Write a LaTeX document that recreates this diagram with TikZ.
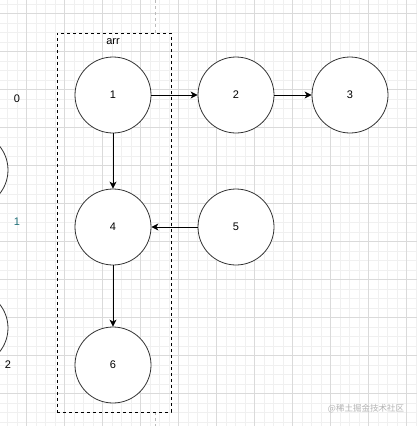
\documentclass[tikz,border=0pt]{standalone}
\usepackage{fontspec}
\setmainfont{Liberation Sans}
\newfontfamily\cjkfont{Noto Sans CJK SC}
\usetikzlibrary{arrows.meta}
\definecolor{gridminor}{HTML}{F0F0F0}
\definecolor{gridmajor}{HTML}{DADADA}
\definecolor{guide}{HTML}{BBBBBB}
\definecolor{edgecol}{HTML}{333333}
\definecolor{tealish}{HTML}{1F6F78}
\definecolor{wmark}{HTML}{B4B4B4}
\tikzset{
  vertex/.style={circle, draw=edgecol, line width=0.8pt, fill=white, minimum size=76pt, inner sep=0pt, font=\fontsize{11}{13}\selectfont},
  conn/.style={draw=black, line width=0.9pt, -{Stealth[length=7pt, width=7pt, inset=2pt]}},
  lbl/.style={font=\fontsize{11}{13}\selectfont, inner sep=0pt},
  groupbox/.style={draw=black, line width=0.8pt, dash pattern=on 3pt off 3pt},
  guideline/.style={draw=guide, line width=0.7pt, dash pattern=on 3pt off 3pt}
}
\begin{document}
\begin{tikzpicture}[x=1pt, y=-1pt]
\useasboundingbox (0,0) rectangle (417,426);
\fill[white] (0,0) rectangle (417,426);
\begin{scope}
\clip (0,0) rectangle (417,426);
% grid
\foreach \i in {0,...,46} {
  \pgfmathsetmacro\xx{-11.3+9.5*\i}
  \draw[gridminor, line width=0.6pt] (\xx,0) -- (\xx,426);
}
\foreach \i in {0,...,47} {
  \pgfmathsetmacro\yy{-24.7+9.5*\i}
  \draw[gridminor, line width=0.6pt] (0,\yy) -- (417,\yy);
}
\foreach \i in {0,...,11} {
  \pgfmathsetmacro\xx{-11.3+38*\i}
  \draw[gridmajor, line width=0.7pt] (\xx,0) -- (\xx,426);
}
\foreach \i in {0,...,12} {
  \pgfmathsetmacro\yy{-24.7+38*\i}
  \draw[gridmajor, line width=0.7pt] (0,\yy) -- (417,\yy);
}
% partial circles on the left edge
\node[vertex] (l1) at (-30,170) {};
\node[vertex] (l2) at (-30,328) {};
\end{scope}
% guide lines
\coordinate (gt) at (155,0);
\coordinate (gtb) at (155,33);
\coordinate (gb) at (155,412);
\coordinate (gbb) at (155,426);
\draw[guideline] (gt) -- (gtb);
\draw[guideline] (gb) -- (gbb);
% group box
\node[groupbox, minimum width=114pt, minimum height=379pt, inner sep=0pt] (box) at (114,222.5) {};
\node[lbl] (arr) at (113,42) {arr};
% left labels
\node[lbl] (t0) at (17,99) {0};
\node[lbl, text=tealish] (t1) at (17,222) {1};
\node[lbl] (t2) at (8,365) {2};
% vertices
\node[vertex] (n1) at (113,95) {1};
\node[vertex] (n2) at (236,95) {2};
\node[vertex] (n3) at (350,95) {3};
\node[vertex] (n4) at (113,227) {4};
\node[vertex] (n5) at (236,227) {5};
\node[vertex] (n6) at (113,365) {6};
% connectors
\draw[conn] (n1) -- (n2);
\draw[conn] (n2) -- (n3);
\draw[conn] (n1) -- (n4);
\draw[conn] (n5) -- (n4);
\draw[conn] (n4) -- (n6);
% watermark
\node[text=wmark, font=\cjkfont\fontsize{8.5}{10}\selectfont, inner sep=0pt] (wm) at (366,409) {@稀土掘金技术社区};
\end{tikzpicture}
\end{document}
